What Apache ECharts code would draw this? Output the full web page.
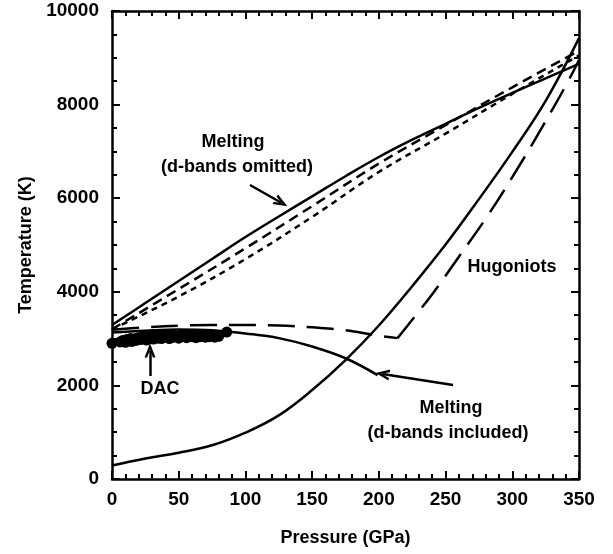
<!DOCTYPE html>
<html><head><meta charset="utf-8">
<script src="https://cdn.jsdelivr.net/npm/echarts@6/dist/echarts.min.js"></script>
<style>html,body{margin:0;padding:0;background:#fff}#c{width:613px;height:554px}</style>
</head><body><div id="c"></div>
<script>
// ---- data ----
const xTicks = [0, 50, 100, 150, 200, 250, 300, 350];
const xTickLabels = ['0', '50', '100', '150', '200', '250', '300', '350'];
const yTicks = [0, 2000, 4000, 6000, 8000, 10000];
const yTickLabels = ['0', '2000', '4000', '6000', '8000', '10000'];

// Melting, d-bands omitted (solid)
const meltOmitP = [0, 25, 50, 75, 100, 125, 150, 175, 200, 225, 250, 275, 300, 325, 350];
const meltOmitT = [3290, 3760, 4230, 4700, 5170, 5610, 6040, 6470, 6880, 7250, 7590, 7930, 8250, 8560, 8870];
// Melting, d-bands omitted variants (short dashes)
const meltOmitAP = [0, 50, 100, 150, 200, 250, 300, 350];
const meltOmitAT = [3200, 4060, 4930, 5830, 6740, 7560, 8370, 9150];
const meltOmitBP = [0, 50, 100, 150, 200, 250, 300, 350];
const meltOmitBT = [3200, 3900, 4700, 5600, 6560, 7380, 8230, 9050];
// Melting, d-bands included (solid)
const meltInclP = [0, 25, 50, 75, 100, 125, 150, 175, 199];
const meltInclT = [3130, 3170, 3195, 3180, 3110, 3010, 2830, 2580, 2220];
// Melting, d-bands included (long dashes)
const meltInclDP = [0, 25, 50, 75, 100, 125, 150, 175, 200, 214];
const meltInclDT = [3190, 3240, 3275, 3290, 3290, 3280, 3240, 3180, 3060, 3010];
// Hugoniots
const hugP = [0, 25, 50, 75, 100, 125, 150, 175, 200, 225, 250, 275, 300, 325, 350];
const hugT = [290, 440, 560, 720, 990, 1360, 1900, 2540, 3280, 4120, 5010, 5980, 6990, 8080, 9420];
const hugDP = [214, 240, 260, 280, 300, 320, 340, 350];
const hugDT = [3010, 3950, 4750, 5560, 6450, 7400, 8400, 8950];
// DAC measurements
const dacP = [0, 6, 8, 10, 11, 13, 14, 15, 17, 18, 19, 21, 22, 23, 25, 26, 27, 29, 30, 31, 33, 34, 36, 37, 39, 40, 42, 43, 45, 46, 48, 50, 51, 53, 55, 56, 58, 60, 61, 63, 65, 66, 68, 70, 72, 73, 75, 77, 78, 80, 86];
const dacT = [2900, 2930, 2960, 2920, 2980, 2950, 3000, 2940, 2990, 2960, 3020, 2980, 3030, 2990, 3040, 2970, 3030, 3010, 3060, 2990, 3050, 3010, 3060, 3000, 3070, 3030, 3060, 3000, 3080, 3030, 3050, 3010, 3070, 3040, 3080, 3020, 3060, 3040, 3080, 3020, 3070, 3040, 3060, 3030, 3080, 3040, 3060, 3030, 3070, 3050, 3140];

// annotation arrows (data space): [from, to]
const arrowOmit = [[103.4, 6282], [126.9, 5902]];
const arrowIncl = [[255.6, 2009], [202.7, 2244]];
const arrowDAC = [[28.5, 2201], [28.5, 2746]];

const zip = (a, b) => a.map((v, i) => [v, b[i]]);
const FONT = 'Liberation Sans';
const K = '#000';

const chart = echarts.init(document.getElementById('c'), null, {renderer: 'canvas'});

function axisCommon(showLabel, minorSplit) {
  return {
    type: 'value',
    axisLine: {show: true, onZero: false, lineStyle: {color: K, width: 2.5}},
    axisTick: {show: true, inside: true, length: 8, lineStyle: {color: K, width: 2}},
    minorTick: {show: true, splitNumber: minorSplit, length: 5, lineStyle: {color: K, width: 2}},
    splitLine: {show: false},
    minorSplitLine: {show: false},
    axisLabel: {show: showLabel}
  };
}

const labelStyle = {color: K, fontSize: 19, fontFamily: FONT, fontWeight: 'bold'};
const xb = Object.assign(axisCommon(true, 5), {
  min: xTicks[0], max: xTicks[xTicks.length - 1], interval: 50, position: 'bottom',
  name: 'Pressure (GPa)', nameLocation: 'middle', nameGap: 50,
  nameTextStyle: {color: K, fontSize: 18, fontFamily: FONT, fontWeight: 'bold'},
  axisLabel: Object.assign({show: true, margin: 11,
    formatter: v => xTickLabels[xTicks.indexOf(v)]}, labelStyle)
});
const xt = Object.assign(axisCommon(false, 5), {
  min: xTicks[0], max: xTicks[xTicks.length - 1], interval: 50, position: 'top'
});
const yl = Object.assign(axisCommon(true, 4), {
  min: yTicks[0], max: yTicks[yTicks.length - 1], interval: 2000, position: 'left',
  name: 'Temperature (K)', nameLocation: 'middle', nameGap: 73,
  nameTextStyle: {color: K, fontSize: 18, fontFamily: FONT, fontWeight: 'bold'},
  axisLabel: Object.assign({show: true, margin: 13,
    formatter: v => yTickLabels[yTicks.indexOf(v)]}, labelStyle)
});
const yr = Object.assign(axisCommon(false, 4), {
  min: yTicks[0], max: yTicks[yTicks.length - 1], interval: 2000, position: 'right'
});

function lineSeries(name, p, t, type) {
  return {
    name, type: 'line', data: zip(p, t), showSymbol: false, smooth: 0.4,
    xAxisIndex: 0, yAxisIndex: 0, silent: true,
    lineStyle: {color: K, width: 2.5, type: type}
  };
}

const arrowPath = 'path://M5,0 L10,13 L7.6,13 L5,5.6 L2.4,13 L0,13 Z';
const mk = a => [{coord: a[0]}, {coord: a[1]}];
const TXT = 'bold 18px "Liberation Sans"';

chart.setOption({
  animation: false,
  backgroundColor: '#fff',
  grid: {left: 112, right: 34, top: 11, bottom: 75},
  xAxis: [xb, xt],
  yAxis: [yl, yr],
  series: [
    lineSeries('Melting (d-bands omitted)', meltOmitP, meltOmitT, 'solid'),
    lineSeries('Melting omitted A', meltOmitAP, meltOmitAT, [10, 6]),
    lineSeries('Melting omitted B', meltOmitBP, meltOmitBT, [6, 5]),
    lineSeries('Melting (d-bands included)', meltInclP, meltInclT, 'solid'),
    lineSeries('Melting included dashed', meltInclDP, meltInclDT, [27, 12]),
    lineSeries('Hugoniot', hugP, hugT, 'solid'),
    lineSeries('Hugoniot dashed', hugDP, hugDT, [27, 12]),
    {
      name: 'DAC', type: 'scatter', data: zip(dacP, dacT), symbol: 'circle', symbolSize: 11,
      itemStyle: {color: K, opacity: 1}, silent: true,
      markLine: {
        silent: true, animation: false,
        symbol: ['none', arrowPath], symbolSize: [11, 14],
        label: {show: false}, emphasis: {disabled: true},
        lineStyle: {color: K, width: 2.5, type: 'solid', opacity: 1},
        data: [mk(arrowOmit), mk(arrowIncl), mk(arrowDAC)]
      }
    }
  ],
  graphic: [
    {type: 'text', style: {text: 'Melting', x: 233, y: 142, align: 'center', verticalAlign: 'middle', font: TXT, fill: K}},
    {type: 'text', style: {text: '(d-bands omitted)', x: 237, y: 167, align: 'center', verticalAlign: 'middle', font: TXT, fill: K}},
    {type: 'text', style: {text: 'Hugoniots', x: 512, y: 267, align: 'center', verticalAlign: 'middle', font: TXT, fill: K}},
    {type: 'text', style: {text: 'DAC', x: 160, y: 389, align: 'center', verticalAlign: 'middle', font: TXT, fill: K}},
    {type: 'text', style: {text: 'Melting', x: 451, y: 408, align: 'center', verticalAlign: 'middle', font: TXT, fill: K}},
    {type: 'text', style: {text: '(d-bands included)', x: 448, y: 433, align: 'center', verticalAlign: 'middle', font: TXT, fill: K}}
  ]
});
</script></body></html>
